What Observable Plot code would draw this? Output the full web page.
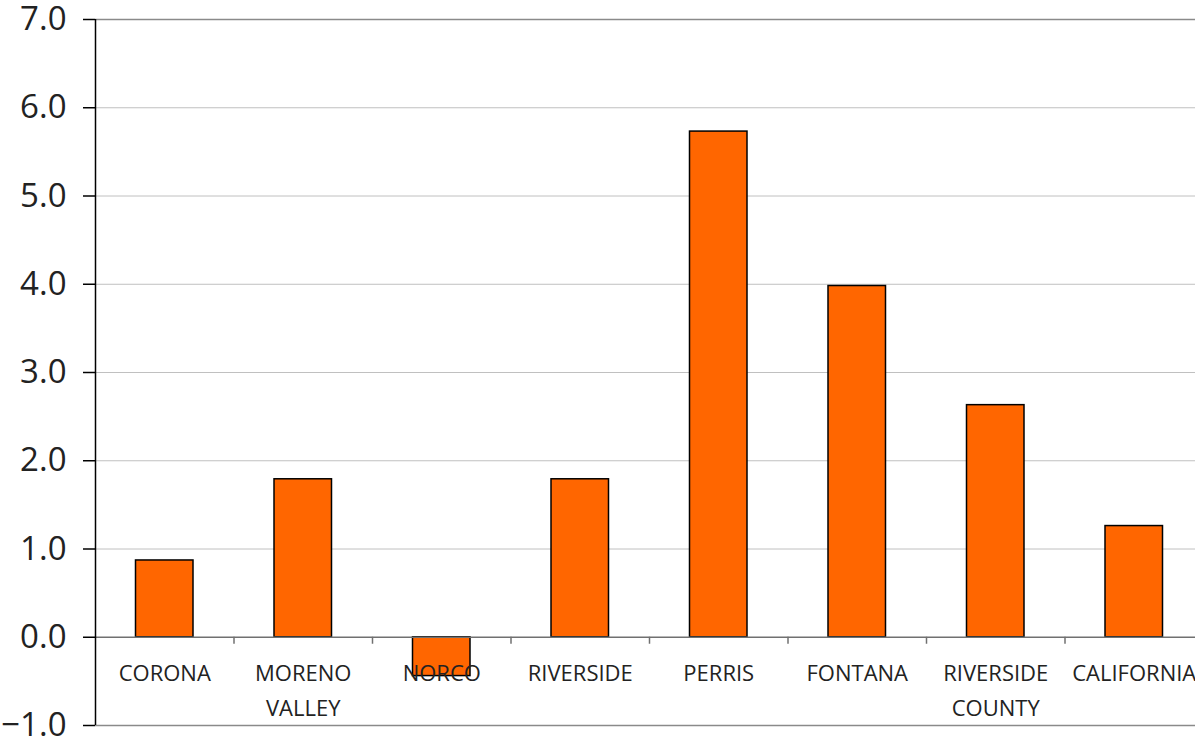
<!DOCTYPE html>
<html>
<head>
<meta charset="utf-8">
<script src="https://cdn.jsdelivr.net/npm/d3@7"></script>
<script src="https://cdn.jsdelivr.net/npm/@observablehq/plot@0.6"></script>
<style>
  html, body { margin: 0; padding: 0; background: #fff; overflow: hidden; }
  #chart { width: 1195px; height: 743px; overflow: hidden; }
</style>
</head>
<body>
<div id="chart"></div>
<script>
const categories = ["CORONA", "MORENO\nVALLEY", "NORCO", "RIVERSIDE", "PERRIS", "FONTANA", "RIVERSIDE\nCOUNTY", "CALIFORNIA"];
const values = [0.87, 1.79, -0.44, 1.79, 5.73, 3.98, 2.63, 1.26];
const yTicks = [-1, 0, 1, 2, 3, 4, 5, 6, 7];
const gridTicks = [1, 2, 3, 4, 5, 6];

const data = categories.map((name, i) => ({name, i, value: values[i]}));
const boundaries = categories.slice(1).map((_, i) => i + 0.5);

const font = "'Open Sans', sans-serif";

const chart = Plot.plot({
  width: 1195,
  height: 743,
  marginLeft: 95,
  marginRight: -8,
  marginTop: 19,
  marginBottom: 18,
  style: {fontFamily: font, background: "#fff", color: "#222", maxWidth: "none"},
  x: {type: "linear", domain: [-0.5, categories.length - 0.5], axis: null},
  y: {domain: [-1, 7], axis: null},
  marks: [
    Plot.ruleY(gridTicks, {stroke: "#c0c0c0", strokeWidth: 1}),
    Plot.ruleY([7, -1], {stroke: "#8a8a8a", strokeWidth: 1.5}),
    Plot.rectY(data, {
      x1: d => d.i - 0.5, x2: d => d.i + 0.5, y1: 0, y2: "value",
      insetLeft: 40.5, insetRight: 40.5,
      fill: "#ff6600", stroke: "#000", strokeWidth: 1.5
    }),
    Plot.ruleY([0], {stroke: "#707070", strokeWidth: 1.5}),
    Plot.ruleX(boundaries, {x: d => d, y1: 0, y2: 0, insetBottom: -7, stroke: "#707070", strokeWidth: 1.5}),
    Plot.ruleX([-0.5], {stroke: "#000", strokeWidth: 1.5}),
    Plot.axisY({
      ticks: yTicks, tickFormat: d3.format(".1f"), tickSize: 12, tickPadding: 17,
      fontSize: 33, stroke: "#000", strokeWidth: 1.5, fill: "#222", label: null
    }),
    Plot.text(data, {
      x: "i", y: () => 0, text: "name", dy: 19, lineAnchor: "top", lineHeight: 1.6,
      fontSize: 22, fill: "#222", fontFamily: font
    })
  ]
});
document.getElementById("chart").appendChild(chart);
</script>
</body>
</html>
